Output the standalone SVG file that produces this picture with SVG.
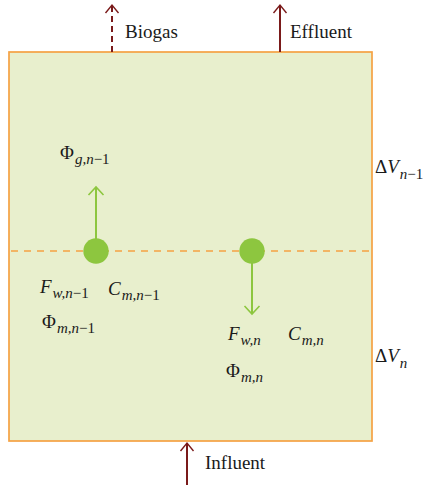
<svg xmlns="http://www.w3.org/2000/svg" width="428" height="485" viewBox="0 0 428 485">
<defs>
<marker id="chev-red" markerWidth="12" markerHeight="16" refX="9" refY="7" orient="auto" markerUnits="userSpaceOnUse" viewBox="0 0 12 14">
<path d="M1,0.5 L9,7 L1,13.5" fill="none" stroke="#7a1a1a" stroke-width="1.4"/>
</marker>
<marker id="chev-green" markerWidth="12" markerHeight="18" refX="9" refY="8" orient="auto" markerUnits="userSpaceOnUse" viewBox="0 0 12 16">
<path d="M1,0.5 L9,8 L1,15.5" fill="none" stroke="#8dc63f" stroke-width="1.6"/>
</marker>
</defs>
<style>
.t{font-family:"Liberation Serif","DejaVu Serif",serif;font-size:19px;fill:#1a1a1a}
.i{font-style:italic}
.s{font-size:15px;font-style:italic}
.n{font-style:normal}
.red{stroke:#7a1a1a;stroke-width:2;fill:none}
.grn{stroke:#8dc63f;stroke-width:2;fill:none}
</style>
<g id="box">
<rect x="9" y="52" width="363" height="389" fill="#e8efcd" stroke="#f5a243" stroke-width="1.7"/>
<line x1="11" y1="251" x2="372" y2="251" stroke="#f5a243" stroke-width="1.5" stroke-dasharray="7,6"/>
</g>
<g id="connectors">
<line x1="112" y1="52" x2="112" y2="5" class="red" stroke-dasharray="6,4" marker-end="url(#chev-red)"/>
<line x1="280" y1="52" x2="280" y2="5" class="red" marker-end="url(#chev-red)"/>
<line x1="187" y1="485" x2="187" y2="443" class="red" marker-end="url(#chev-red)"/>
<line x1="96" y1="239" x2="96" y2="187" class="grn" marker-end="url(#chev-green)"/>
<line x1="252" y1="263" x2="252" y2="314" class="grn" marker-end="url(#chev-green)"/>
</g>
<g id="node-upper">
<circle cx="96" cy="251" r="12.7" fill="#8dc63f"/>
</g>
<g id="node-lower">
<circle cx="252" cy="251" r="12.7" fill="#8dc63f"/>
</g>
<g id="labels">
<text class="t" x="125" y="38">Biogas</text>
<text class="t" x="290" y="38">Effluent</text>
<text class="t" x="205" y="469">Influent</text>
<text class="t" x="60" y="159">Φ<tspan class="s" dx="1" dy="5">g,n</tspan><tspan class="s n">−1</tspan></text>
<text class="t" x="40" y="293"><tspan class="i">F</tspan><tspan class="s" dx="1" dy="5">w,n</tspan><tspan class="s n">−1</tspan></text>
<text class="t" x="108" y="295"><tspan class="i">C</tspan><tspan class="s" dx="1" dy="5">m,n</tspan><tspan class="s n">−1</tspan></text>
<text class="t" x="42" y="328">Φ<tspan class="s" dx="1" dy="5">m,n</tspan><tspan class="s n">−1</tspan></text>
<text class="t" x="228" y="340"><tspan class="i">F</tspan><tspan class="s" dx="1" dy="5">w,n</tspan></text>
<text class="t" x="288" y="340"><tspan class="i">C</tspan><tspan class="s" dx="1" dy="5">m,n</tspan></text>
<text class="t" x="226" y="377">Φ<tspan class="s" dx="1" dy="5">m,n</tspan></text>
<text class="t" x="375" y="173">Δ<tspan class="i">V</tspan><tspan class="s" dx="1" dy="6">n</tspan><tspan class="s n">−1</tspan></text>
<text class="t" x="375" y="362">Δ<tspan class="i">V</tspan><tspan class="s" dx="1" dy="6">n</tspan></text>
</g>
</svg>
